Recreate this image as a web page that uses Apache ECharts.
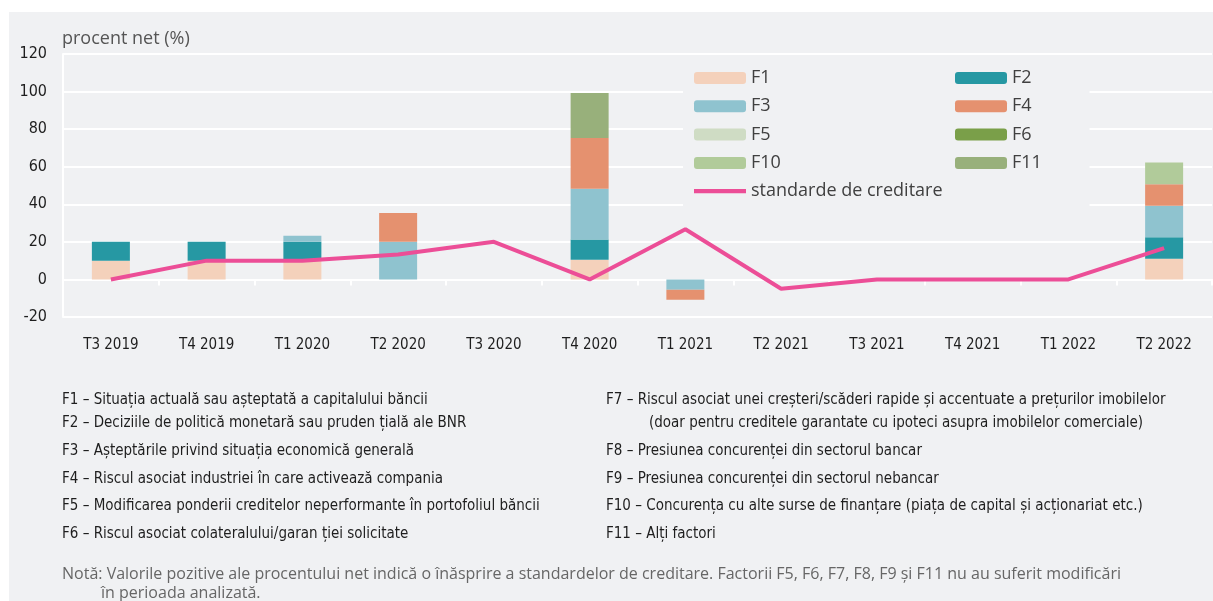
<!DOCTYPE html>
<html>
<head>
<meta charset="utf-8">
<script src="https://cdn.jsdelivr.net/npm/echarts@6/dist/echarts.min.js"></script>
<style>
  html, body { margin: 0; padding: 0; background: #ffffff; }
  #chart {
    position: absolute; left: 9px; top: 12px;
    width: 1204px; height: 589px;
    background: #f0f1f3;
  }
</style>
</head>
<body>
<div id="chart"></div>
<script>
// --- date ---
const categories = ['T3 2019', 'T4 2019', 'T1 2020', 'T2 2020', 'T3 2020', 'T4 2020',
  'T1 2021', 'T2 2021', 'T3 2021', 'T4 2021', 'T1 2022', 'T2 2022'];

const f1  = [10, 10, 10, null, null, 10.5, null, null, null, null, null, 11];
const f2  = [10, 10, 10, null, null, 10.8, null, null, null, null, null, 11.5];
const f3  = [null, null, 3.3, 20, null, 27, -5.5, null, null, null, null, 16.7];
const f4  = [null, null, null, 15.4, null, 27, -5.3, null, null, null, null, 11.5];
const f5  = [null, null, null, null, null, null, null, null, null, null, null, null];
const f6  = [null, null, null, null, null, null, null, null, null, null, null, null];
const f10 = [null, null, null, null, null, null, null, null, null, null, null, 11.5];
const f11 = [null, null, null, null, null, 24, null, null, null, null, null, null];
const standarde = [0, 10, 10, 13.3, 20, 0, 26.7, -5, 0, 0, 0, 16.7];

const yTicks = { min: -20, max: 120, interval: 20 };

const notesLeft = [
  'F1 – Situația actuală sau așteptată a capitalului băncii',
  'F2 – Deciziile de politică monetară sau pruden țială ale BNR',
  'F3 – Așteptările privind situația economică generală',
  'F4 – Riscul asociat industriei în care activează compania',
  'F5 – Modificarea ponderii creditelor neperformante în portofoliul băncii',
  'F6 – Riscul asociat colateralului/garan ției solicitate'
];
const notesRight = [
  'F7 – Riscul asociat unei creșteri/scăderi rapide și accentuate a prețurilor imobilelor',
  '(doar pentru creditele garantate cu ipoteci asupra imobilelor comerciale)',
  'F8 – Presiunea concurenței din sectorul bancar',
  'F9 – Presiunea concurenței din sectorul nebancar',
  'F10 – Concurența cu alte surse de finanțare (piața de capital și acționariat etc.)',
  'F11 – Alți factori'
];
const nota1 = 'Notă: Valorile pozitive ale procentului net indică o înăsprire a standardelor de creditare. Factorii F5, F6, F7, F8, F9 și F11 nu au suferit modificări';
const nota2 = 'în perioada analizată.';

// culori
const COLORS = {
  F1: '#f4d1bb',
  F2: '#2698a3',
  F3: '#8fc3cf',
  F4: '#e5916f',
  F5: '#cfdcc4',
  F6: '#7a9f49',
  F10: '#b1cb9a',
  F11: '#98b07b',
  line: '#ec4e97',
  bg: '#f0f1f3'
};

const NARROW = '"Liberation Sans Narrow", "DejaVu Sans Condensed", "Liberation Sans", sans-serif';
const SANS = '"Open Sans", "Noto Sans", sans-serif';

const barSeries = (name, data) => ({
  name,
  type: 'bar',
  stack: 'total',
  data,
  barWidth: 38,
  itemStyle: { color: COLORS[name] },
  emphasis: { disabled: true }
});

// rânduri notă
const rowY = [390, 413, 441, 469, 496, 524];
const graphics = [
  {
    type: 'text', left: 53, top: 18,
    style: { text: 'procent net (%)', font: '18px ' + SANS, fill: '#555555' }
  }
];
notesLeft.forEach((t, i) => {
  graphics.push({
    type: 'text', left: 53, top: rowY[i] - 9,
    style: { text: t, font: '15px ' + NARROW, fill: '#1e1e1e' }
  });
});
notesRight.forEach((t, i) => {
  graphics.push({
    type: 'text', left: i === 1 ? 640 : 597, top: rowY[i] - 9,
    style: { text: t, font: '15px ' + NARROW, fill: '#1e1e1e' }
  });
});
graphics.push({
  type: 'text', left: 53, top: 554,
  style: { text: nota1, font: '16px ' + SANS, fill: '#666666' }
});
graphics.push({
  type: 'text', left: 92, top: 573,
  style: { text: nota2, font: '16px ' + SANS, fill: '#666666' }
});

const legendText = { fontFamily: SANS, fontSize: 18, lineHeight: 20, color: '#404040' };

const myChart = echarts.init(document.getElementById('chart'));

const option = {
  backgroundColor: COLORS.bg,
  animation: false,
  grid: { left: 54, right: 1, top: 42, bottom: 284, containLabel: false },
  legend: [
    {
      data: ['F1', 'F3', 'F5', 'F10',
        { name: 'standarde de creditare', icon: 'path://M0,0 L100,0 L100,8 L0,8 Z' }],
      orient: 'vertical',
      left: 674, top: 47,
      padding: [9, 147, 8, 11],
      backgroundColor: COLORS.bg,
      itemWidth: 52, itemHeight: 12, itemGap: 8.3,
      textStyle: legendText,
      selectedMode: false,
      z: 5
    },
    {
      data: ['F2', 'F4', 'F6', 'F11'],
      orient: 'vertical',
      left: 946, top: 56,
      padding: 0,
      itemWidth: 52, itemHeight: 12, itemGap: 8.3,
      textStyle: legendText,
      selectedMode: false,
      z: 6
    }
  ],
  xAxis: {
    type: 'category',
    data: categories,
    axisLine: { onZero: true, lineStyle: { color: '#ffffff', width: 2 } },
    axisTick: { show: true, length: 6, lineStyle: { color: '#ffffff', width: 2 } },
    axisLabel: { margin: 21, fontFamily: NARROW, fontSize: 15, color: '#1e1e1e' },
    splitLine: { show: false }
  },
  yAxis: {
    type: 'value',
    min: yTicks.min, max: yTicks.max, interval: yTicks.interval,
    axisLine: { show: true, lineStyle: { color: '#ffffff', width: 2 } },
    axisTick: { show: false },
    axisLabel: { margin: 16, fontFamily: NARROW, fontSize: 16, color: '#1e1e1e' },
    splitLine: { show: true, lineStyle: { color: '#ffffff', width: 2 } }
  },
  series: [
    barSeries('F1', f1),
    barSeries('F2', f2),
    barSeries('F3', f3),
    barSeries('F4', f4),
    barSeries('F5', f5),
    barSeries('F6', f6),
    barSeries('F10', f10),
    barSeries('F11', f11),
    {
      name: 'standarde de creditare',
      type: 'line',
      data: standarde,
      symbol: 'none',
      z: 10,
      lineStyle: { color: COLORS.line, width: 4 },
      itemStyle: { color: COLORS.line },
      emphasis: { disabled: true }
    }
  ],
  graphic: graphics
};

myChart.setOption(option);
</script>
</body>
</html>
